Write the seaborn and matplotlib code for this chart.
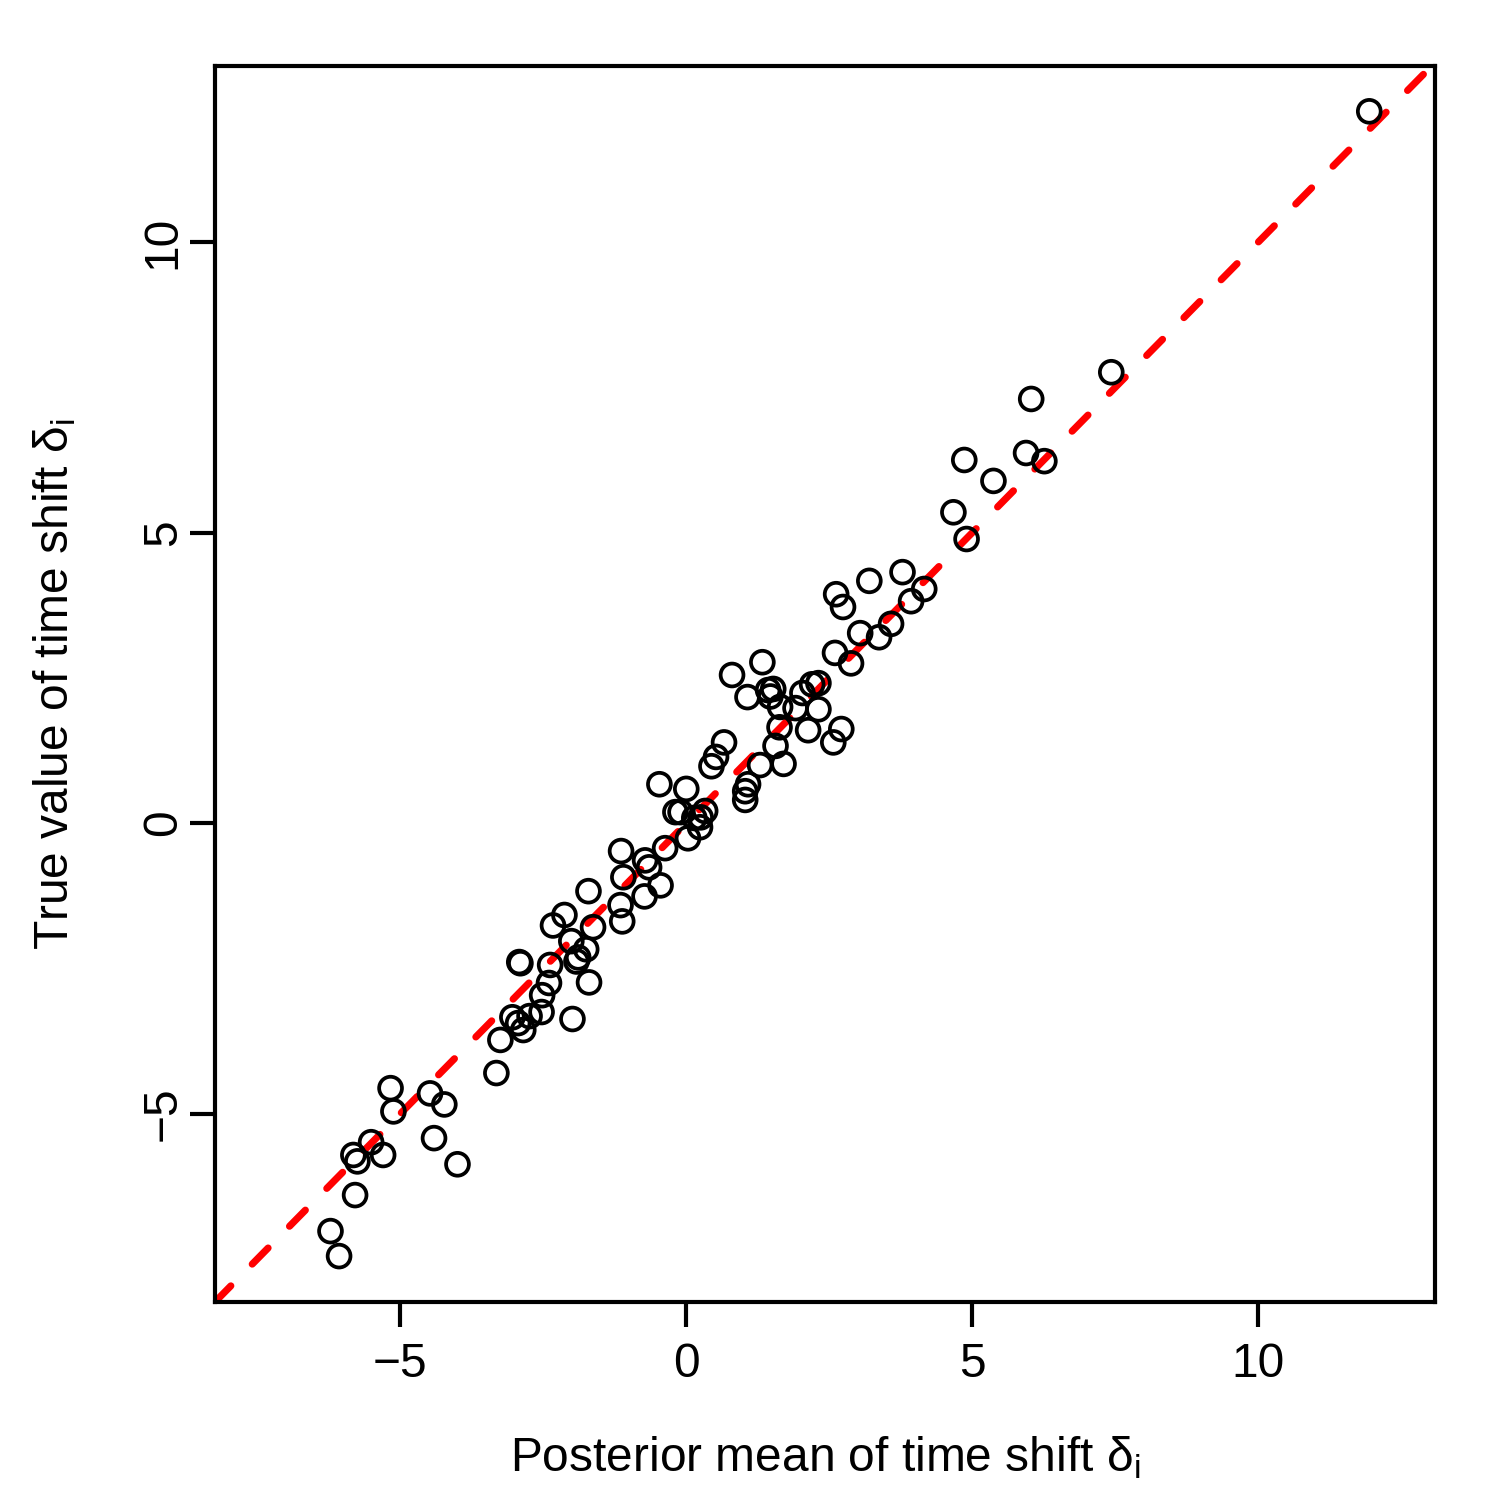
import numpy as np
import pandas as pd
import matplotlib
matplotlib.use("Agg")
import matplotlib.pyplot as plt
import seaborn as sns

# Posterior means (x) and true values (y) of the time shifts
posterior_mean = [
    11.94, 7.43, 6.03, 5.94, 6.26, 4.86, 5.37, 4.67, 4.90, 3.78,
    3.20, 2.62, 2.74, 3.93, 4.16, 3.58, 3.37, 3.04, 2.60, 2.88,
    1.33, 0.80, 1.43, 1.52, 1.07, 2.03, 2.20, 2.31, 1.64, 1.91,
    2.31, 1.63, 2.13, 2.71, 2.57, 1.56, 0.66, 0.52, 0.44, 1.29,
    1.70, 1.08, 1.03, 1.03, -0.47, 0.00, -0.19, -0.10, 0.14, 0.33,
    0.24, 0.03, -0.37, -1.14, -0.72, -0.65, -1.10, -0.45, -0.73, -1.71,
    -1.15, -1.12, -2.13, -2.33, -1.63, -2.01, -1.75, -1.89, -1.92, -2.92,
    -2.90, -2.38, -1.70, -2.40, -2.52, -2.53, -1.99, -3.04, -2.74, -2.94,
    -2.85, -3.25, -3.32, -5.17, -4.48, -4.23, -5.12, -4.41, -4.00, -5.51,
    -5.82, -5.30, -5.75, -5.79, -6.22, -6.07, 1.47, 0.25,
]
true_value = [
    12.25, 7.76, 7.30, 6.37, 6.23, 6.25, 5.89, 5.35, 4.89, 4.32,
    4.17, 3.94, 3.72, 3.82, 4.03, 3.43, 3.20, 3.27, 2.93, 2.75,
    2.77, 2.55, 2.29, 2.31, 2.17, 2.24, 2.39, 2.41, 2.00, 1.98,
    1.96, 1.65, 1.60, 1.62, 1.39, 1.33, 1.39, 1.14, 0.98, 1.00,
    1.02, 0.67, 0.55, 0.40, 0.67, 0.59, 0.19, 0.19, 0.09, 0.21,
    -0.07, -0.26, -0.43, -0.48, -0.64, -0.76, -0.93, -1.07, -1.26, -1.17,
    -1.41, -1.69, -1.58, -1.76, -1.79, -2.03, -2.17, -2.31, -2.38, -2.39,
    -2.41, -2.44, -2.74, -2.75, -2.96, -3.25, -3.37, -3.34, -3.32, -3.44,
    -3.56, -3.73, -4.30, -4.56, -4.65, -4.84, -4.96, -5.42, -5.87, -5.49,
    -5.71, -5.71, -5.82, -6.40, -7.02, -7.45, 2.18, 0.10,
]
tick_vals = [-5, 0, 5, 10]
tick_labels = ["\u22125", "0", "5", "10"]

df = pd.DataFrame({"post": posterior_mean, "true": true_value})

sns.set_theme(style="ticks")
plt.rcParams["font.family"] = ["Liberation Sans", "DejaVu Sans"]
plt.rcParams["mathtext.fontset"] = "custom"
plt.rcParams["mathtext.rm"] = "Liberation Sans"

fig = plt.figure(figsize=(5, 5), dpi=300)
ax = fig.add_axes([0.1433, 0.132, 0.8134, 0.824])

# Open circles like R's pch = 1
sns.scatterplot(x="post", y="true", data=df, ax=ax, s=30, marker="o",
                facecolors="none", edgecolor="black", linewidth=0.9, zorder=3)

# y = x reference line
ax.axline((0, 0), slope=1, color="#ff0000", linestyle=(0, (3.2, 4.3)),
          linewidth=1.7, dash_capstyle="round", zorder=2)

ax.set_xlim(-8.24, 13.09)
ax.set_ylim(-8.24, 13.03)
ax.set_xticks(tick_vals)
ax.set_yticks(tick_vals)
ax.set_xticklabels(tick_labels)
ax.set_yticklabels(tick_labels, rotation=90, va="center")

for sp in ax.spines.values():
    sp.set_visible(True)
    sp.set_linewidth(1.0)
    sp.set_color("black")

ax.tick_params(axis="both", direction="out", length=6, width=1.0,
               colors="black", labelsize=11.5)
ax.tick_params(axis="x", pad=3.5)
ax.tick_params(axis="y", pad=1.0)

ax.set_xlabel("Posterior mean of time shift δ$_\\mathregular{i}$",
              fontsize=11.5, labelpad=11.5, color="black")
ax.set_ylabel("True value of time shift δ$_\\mathregular{i}$",
              fontsize=11.5, labelpad=15, color="black")
ax.grid(False)

plt.savefig("out.png", dpi=300, facecolor="white")
